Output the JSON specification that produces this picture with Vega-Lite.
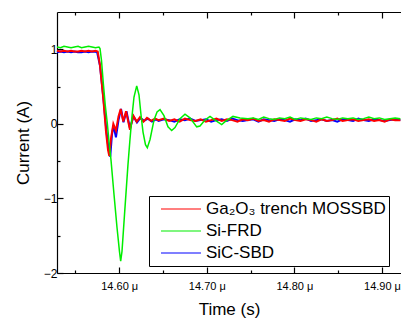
{
  "$schema": "https://vega.github.io/schema/vega-lite/v6.json",
  "width": 344,
  "height": 261,
  "autosize": {"type": "none"},
  "padding": {"left": 57, "top": 12, "right": 0, "bottom": 47},
  "background": "white",
  "config": {
    "view": {"stroke": null},
    "font": "Liberation Sans",
    "axis": {"grid": false, "domainColor": "#000000", "tickColor": "#000000", "labelColor": "#000000", "titleColor": "#000000", "labelFont": "Liberation Sans", "titleFont": "Liberation Sans", "titleFontWeight": "normal", "labelFontSize": 12, "titleFontSize": 17, "domainWidth": 1.2, "tickWidth": 1.2}
  },
  "datasets": {
    "ga": [
      {"t": 14.529, "v": 0.98}, {"t": 14.533, "v": 0.97}, {"t": 14.537, "v": 0.98}, {"t": 14.541, "v": 0.97}, {"t": 14.545, "v": 0.98}, {"t": 14.549, "v": 0.97}, {"t": 14.553, "v": 0.97}, {"t": 14.557, "v": 0.98}, {"t": 14.561, "v": 0.97}, {"t": 14.565, "v": 0.98}, {"t": 14.569, "v": 0.97}, {"t": 14.573, "v": 0.98},
      {"t": 14.5755, "v": 0.97}, {"t": 14.5781, "v": 0.78}, {"t": 14.5819, "v": 0.33}, {"t": 14.5849, "v": -0.1}, {"t": 14.5872, "v": -0.35}, {"t": 14.5887, "v": -0.43}, {"t": 14.5906, "v": -0.2}, {"t": 14.5933, "v": 0.0}, {"t": 14.5963, "v": -0.09}, {"t": 14.5992, "v": 0.1}, {"t": 14.6017, "v": 0.2}, {"t": 14.6047, "v": 0.03}, {"t": 14.6078, "v": 0.17}, {"t": 14.6123, "v": -0.08}, {"t": 14.6161, "v": 0.11}, {"t": 14.62, "v": 0.03}, {"t": 14.6237, "v": 0.09}, {"t": 14.6277, "v": 0.03}, {"t": 14.6317, "v": 0.08}, {"t": 14.6363, "v": 0.04}, {"t": 14.6409, "v": 0.07},
      {"t": 14.645, "v": 0.05}, {"t": 14.651, "v": 0.07}, {"t": 14.657, "v": 0.04}, {"t": 14.663, "v": 0.06}, {"t": 14.669, "v": 0.03}, {"t": 14.675, "v": 0.07}, {"t": 14.681, "v": 0.05}, {"t": 14.687, "v": 0.04}, {"t": 14.693, "v": 0.06}, {"t": 14.699, "v": 0.03}, {"t": 14.705, "v": 0.05}, {"t": 14.711, "v": 0.07}, {"t": 14.717, "v": 0.04}, {"t": 14.723, "v": 0.06}, {"t": 14.729, "v": 0.05}, {"t": 14.735, "v": 0.03}, {"t": 14.741, "v": 0.06}, {"t": 14.747, "v": 0.05}, {"t": 14.753, "v": 0.07}, {"t": 14.759, "v": 0.04}, {"t": 14.765, "v": 0.05}, {"t": 14.771, "v": 0.03}, {"t": 14.777, "v": 0.06}, {"t": 14.783, "v": 0.05}, {"t": 14.789, "v": 0.04}, {"t": 14.795, "v": 0.07}, {"t": 14.801, "v": 0.05}, {"t": 14.807, "v": 0.04}, {"t": 14.813, "v": 0.06}, {"t": 14.819, "v": 0.05}, {"t": 14.825, "v": 0.03}, {"t": 14.831, "v": 0.06}, {"t": 14.837, "v": 0.04}, {"t": 14.843, "v": 0.05}, {"t": 14.849, "v": 0.07}, {"t": 14.855, "v": 0.04}, {"t": 14.861, "v": 0.05}, {"t": 14.867, "v": 0.06}, {"t": 14.873, "v": 0.04}, {"t": 14.879, "v": 0.05}, {"t": 14.885, "v": 0.06}, {"t": 14.891, "v": 0.04}, {"t": 14.897, "v": 0.05}, {"t": 14.903, "v": 0.03}, {"t": 14.909, "v": 0.06}, {"t": 14.915, "v": 0.05}, {"t": 14.921, "v": 0.05}
    ],
    "sic": [
      {"t": 14.529, "v": 0.96}, {"t": 14.533, "v": 0.97}, {"t": 14.537, "v": 0.96}, {"t": 14.541, "v": 0.97}, {"t": 14.545, "v": 0.96}, {"t": 14.549, "v": 0.97}, {"t": 14.553, "v": 0.96}, {"t": 14.557, "v": 0.96}, {"t": 14.561, "v": 0.97}, {"t": 14.565, "v": 0.96}, {"t": 14.569, "v": 0.97}, {"t": 14.5747, "v": 0.965},
      {"t": 14.5781, "v": 0.78}, {"t": 14.5819, "v": 0.35}, {"t": 14.5853, "v": -0.08}, {"t": 14.5878, "v": -0.33}, {"t": 14.5898, "v": -0.44}, {"t": 14.5917, "v": -0.15}, {"t": 14.5934, "v": -0.02}, {"t": 14.5963, "v": -0.18}, {"t": 14.5992, "v": 0.05}, {"t": 14.6021, "v": 0.2}, {"t": 14.6049, "v": 0.02}, {"t": 14.6083, "v": 0.17}, {"t": 14.6123, "v": -0.06}, {"t": 14.6163, "v": 0.1}, {"t": 14.6203, "v": 0.02}, {"t": 14.6243, "v": 0.08}, {"t": 14.6283, "v": 0.04}, {"t": 14.6329, "v": 0.07}, {"t": 14.6374, "v": 0.03}, {"t": 14.642, "v": 0.06},
      {"t": 14.645, "v": 0.04}, {"t": 14.651, "v": 0.06}, {"t": 14.657, "v": 0.05}, {"t": 14.663, "v": 0.03}, {"t": 14.669, "v": 0.06}, {"t": 14.675, "v": 0.05}, {"t": 14.681, "v": 0.07}, {"t": 14.687, "v": 0.04}, {"t": 14.693, "v": 0.05}, {"t": 14.699, "v": 0.06}, {"t": 14.705, "v": 0.03}, {"t": 14.711, "v": 0.05}, {"t": 14.717, "v": 0.06}, {"t": 14.723, "v": 0.04}, {"t": 14.729, "v": 0.07}, {"t": 14.735, "v": 0.05}, {"t": 14.741, "v": 0.04}, {"t": 14.747, "v": 0.05}, {"t": 14.753, "v": 0.06}, {"t": 14.759, "v": 0.03}, {"t": 14.765, "v": 0.06}, {"t": 14.771, "v": 0.05}, {"t": 14.777, "v": 0.04}, {"t": 14.783, "v": 0.06}, {"t": 14.789, "v": 0.05}, {"t": 14.795, "v": 0.03}, {"t": 14.801, "v": 0.06}, {"t": 14.807, "v": 0.05}, {"t": 14.813, "v": 0.07}, {"t": 14.819, "v": 0.04}, {"t": 14.825, "v": 0.05}, {"t": 14.831, "v": 0.06}, {"t": 14.837, "v": 0.04}, {"t": 14.843, "v": 0.05}, {"t": 14.849, "v": 0.03}, {"t": 14.855, "v": 0.06}, {"t": 14.861, "v": 0.05}, {"t": 14.867, "v": 0.04}, {"t": 14.873, "v": 0.07}, {"t": 14.879, "v": 0.05}, {"t": 14.885, "v": 0.04}, {"t": 14.891, "v": 0.06}, {"t": 14.897, "v": 0.05}, {"t": 14.903, "v": 0.04}, {"t": 14.909, "v": 0.05}, {"t": 14.915, "v": 0.06}, {"t": 14.921, "v": 0.05}
    ],
    "si": [
      {"t": 14.529, "v": 1.03}, {"t": 14.533, "v": 1.02}, {"t": 14.537, "v": 1.04}, {"t": 14.541, "v": 1.03}, {"t": 14.545, "v": 1.02}, {"t": 14.549, "v": 1.03}, {"t": 14.553, "v": 1.04}, {"t": 14.557, "v": 1.02}, {"t": 14.561, "v": 1.03}, {"t": 14.565, "v": 1.04}, {"t": 14.569, "v": 1.03}, {"t": 14.573, "v": 1.02}, {"t": 14.5769, "v": 1.03},
      {"t": 14.5781, "v": 1.01}, {"t": 14.5798, "v": 0.85}, {"t": 14.5819, "v": 0.54}, {"t": 14.5841, "v": 0.25}, {"t": 14.5864, "v": 0.01}, {"t": 14.5884, "v": -0.24}, {"t": 14.5906, "v": -0.48}, {"t": 14.5941, "v": -0.95}, {"t": 14.5975, "v": -1.39}, {"t": 14.6003, "v": -1.71}, {"t": 14.6017, "v": -1.84}, {"t": 14.6032, "v": -1.71}, {"t": 14.6061, "v": -1.21}, {"t": 14.61, "v": -0.55}, {"t": 14.6123, "v": -0.21}, {"t": 14.6146, "v": 0.1}, {"t": 14.6169, "v": 0.36}, {"t": 14.62, "v": 0.51}, {"t": 14.6226, "v": 0.39}, {"t": 14.6249, "v": 0.12}, {"t": 14.6272, "v": -0.11}, {"t": 14.63, "v": -0.28}, {"t": 14.6321, "v": -0.32}, {"t": 14.6352, "v": -0.21}, {"t": 14.6397, "v": 0.05}, {"t": 14.6432, "v": 0.16}, {"t": 14.6466, "v": 0.19}, {"t": 14.6511, "v": 0.11}, {"t": 14.6557, "v": -0.04}, {"t": 14.6599, "v": -0.09}, {"t": 14.6637, "v": -0.05}, {"t": 14.6694, "v": 0.07}, {"t": 14.6751, "v": 0.13}, {"t": 14.6808, "v": 0.08}, {"t": 14.6885, "v": -0.04}, {"t": 14.6922, "v": -0.03}, {"t": 14.6979, "v": 0.05}, {"t": 14.7037, "v": 0.1}, {"t": 14.7094, "v": 0.05}, {"t": 14.717, "v": -0.01}, {"t": 14.7219, "v": 0.04}, {"t": 14.7299, "v": 0.1}, {"t": 14.7379, "v": 0.08},
      {"t": 14.747, "v": 0.07}, {"t": 14.753, "v": 0.08}, {"t": 14.759, "v": 0.06}, {"t": 14.765, "v": 0.09}, {"t": 14.771, "v": 0.07}, {"t": 14.777, "v": 0.06}, {"t": 14.783, "v": 0.08}, {"t": 14.789, "v": 0.07}, {"t": 14.795, "v": 0.09}, {"t": 14.801, "v": 0.06}, {"t": 14.807, "v": 0.08}, {"t": 14.813, "v": 0.07}, {"t": 14.819, "v": 0.06}, {"t": 14.825, "v": 0.08}, {"t": 14.831, "v": 0.07}, {"t": 14.837, "v": 0.09}, {"t": 14.843, "v": 0.07}, {"t": 14.849, "v": 0.06}, {"t": 14.855, "v": 0.08}, {"t": 14.861, "v": 0.07}, {"t": 14.867, "v": 0.08}, {"t": 14.873, "v": 0.06}, {"t": 14.879, "v": 0.07}, {"t": 14.885, "v": 0.09}, {"t": 14.891, "v": 0.07}, {"t": 14.897, "v": 0.08}, {"t": 14.903, "v": 0.06}, {"t": 14.909, "v": 0.07}, {"t": 14.915, "v": 0.08}, {"t": 14.921, "v": 0.07}
    ],
    "ticks": [{"t": 14.6, "v": 0}]
  },
  "layer": [
    {
      "encoding": {
        "x": {"field": "t", "type": "quantitative", "scale": {"domain": [14.529, 14.9217], "nice": false, "zero": false},
              "axis": {"orient": "bottom", "values": [14.6, 14.7, 14.8, 14.9], "labelExpr": "format(datum.value, '.2f') + ' μ'", "labelFontSize": 11, "labelDx": -4, "tickSize": -6, "labelPadding": 13, "title": "Time (s)", "titlePadding": 10}},
        "y": {"field": "v", "type": "quantitative", "scale": {"domain": [-2, 1.5], "nice": false, "zero": false},
              "axis": {"orient": "left", "values": [-2, -1, 0, 1], "tickSize": -6, "labelPadding": 6, "title": "Current (A)", "titlePadding": 11}},
        "color": {"datum": "SiC-SBD", "type": "nominal",
                  "scale": {"domain": ["Ga₂O₃ trench MOSSBD", "Si-FRD", "SiC-SBD"], "range": ["#ff0000", "#00ee00", "#0000ff"]},
                  "legend": {"title": null, "orient": "none", "legendX": 92, "legendY": 184, "padding": 3, "strokeColor": "#000000", "symbolType": "stroke", "symbolSize": 1600, "symbolOffset": 8, "clipHeight": 20, "symbolStrokeWidth": 1.2, "labelFontSize": 17, "labelFont": "Liberation Sans", "labelColor": "#000000", "labelOffset": 4, "labelLimit": 0, "rowPadding": 2}}
      },
      "layer": [
        {"data": {"name": "sic"}, "mark": {"type": "line", "strokeWidth": 2}, "encoding": {"color": {"datum": "SiC-SBD"}}},
        {"data": {"name": "ga"}, "mark": {"type": "line", "strokeWidth": 2}, "encoding": {"color": {"datum": "Ga₂O₃ trench MOSSBD"}}},
        {"data": {"name": "si"}, "mark": {"type": "line", "strokeWidth": 1.5}, "encoding": {"color": {"datum": "Si-FRD"}}}
      ]
    },
    {
      "data": {"name": "ticks"},
      "mark": {"type": "point", "opacity": 0},
      "encoding": {
        "x": {"field": "t", "type": "quantitative", "scale": {"domain": [14.529, 14.9217], "nice": false, "zero": false},
              "axis": {"orient": "bottom", "values": [14.55, 14.65, 14.75, 14.85], "labels": false, "domain": false, "tickSize": -3, "title": null}},
        "y": {"field": "v", "type": "quantitative", "scale": {"domain": [-2, 1.5], "nice": false, "zero": false},
              "axis": {"orient": "left", "values": [-1.5, -0.5, 0.5], "labels": false, "domain": false, "tickSize": -3, "title": null}}
      }
    },
    {
      "data": {"name": "ticks"},
      "mark": {"type": "point", "opacity": 0},
      "encoding": {
        "x": {"field": "t", "type": "quantitative", "scale": {"domain": [14.529, 14.9217], "nice": false, "zero": false},
              "axis": {"orient": "top", "values": [14.6, 14.7, 14.8, 14.9], "labels": false, "tickSize": -6, "title": null}},
        "y": {"field": "v", "type": "quantitative", "scale": {"domain": [-2, 1.5], "nice": false, "zero": false}, "axis": null}
      }
    },
    {
      "data": {"name": "ticks"},
      "mark": {"type": "point", "opacity": 0},
      "encoding": {
        "x": {"field": "t", "type": "quantitative", "scale": {"domain": [14.529, 14.9217], "nice": false, "zero": false},
              "axis": {"orient": "top", "values": [14.55, 14.65, 14.75, 14.85], "labels": false, "domain": false, "tickSize": -3, "title": null}},
        "y": {"field": "v", "type": "quantitative", "scale": {"domain": [-2, 1.5], "nice": false, "zero": false}, "axis": null}
      }
    }
  ],
  "resolve": {"axis": {"x": "independent", "y": "independent"}}
}
